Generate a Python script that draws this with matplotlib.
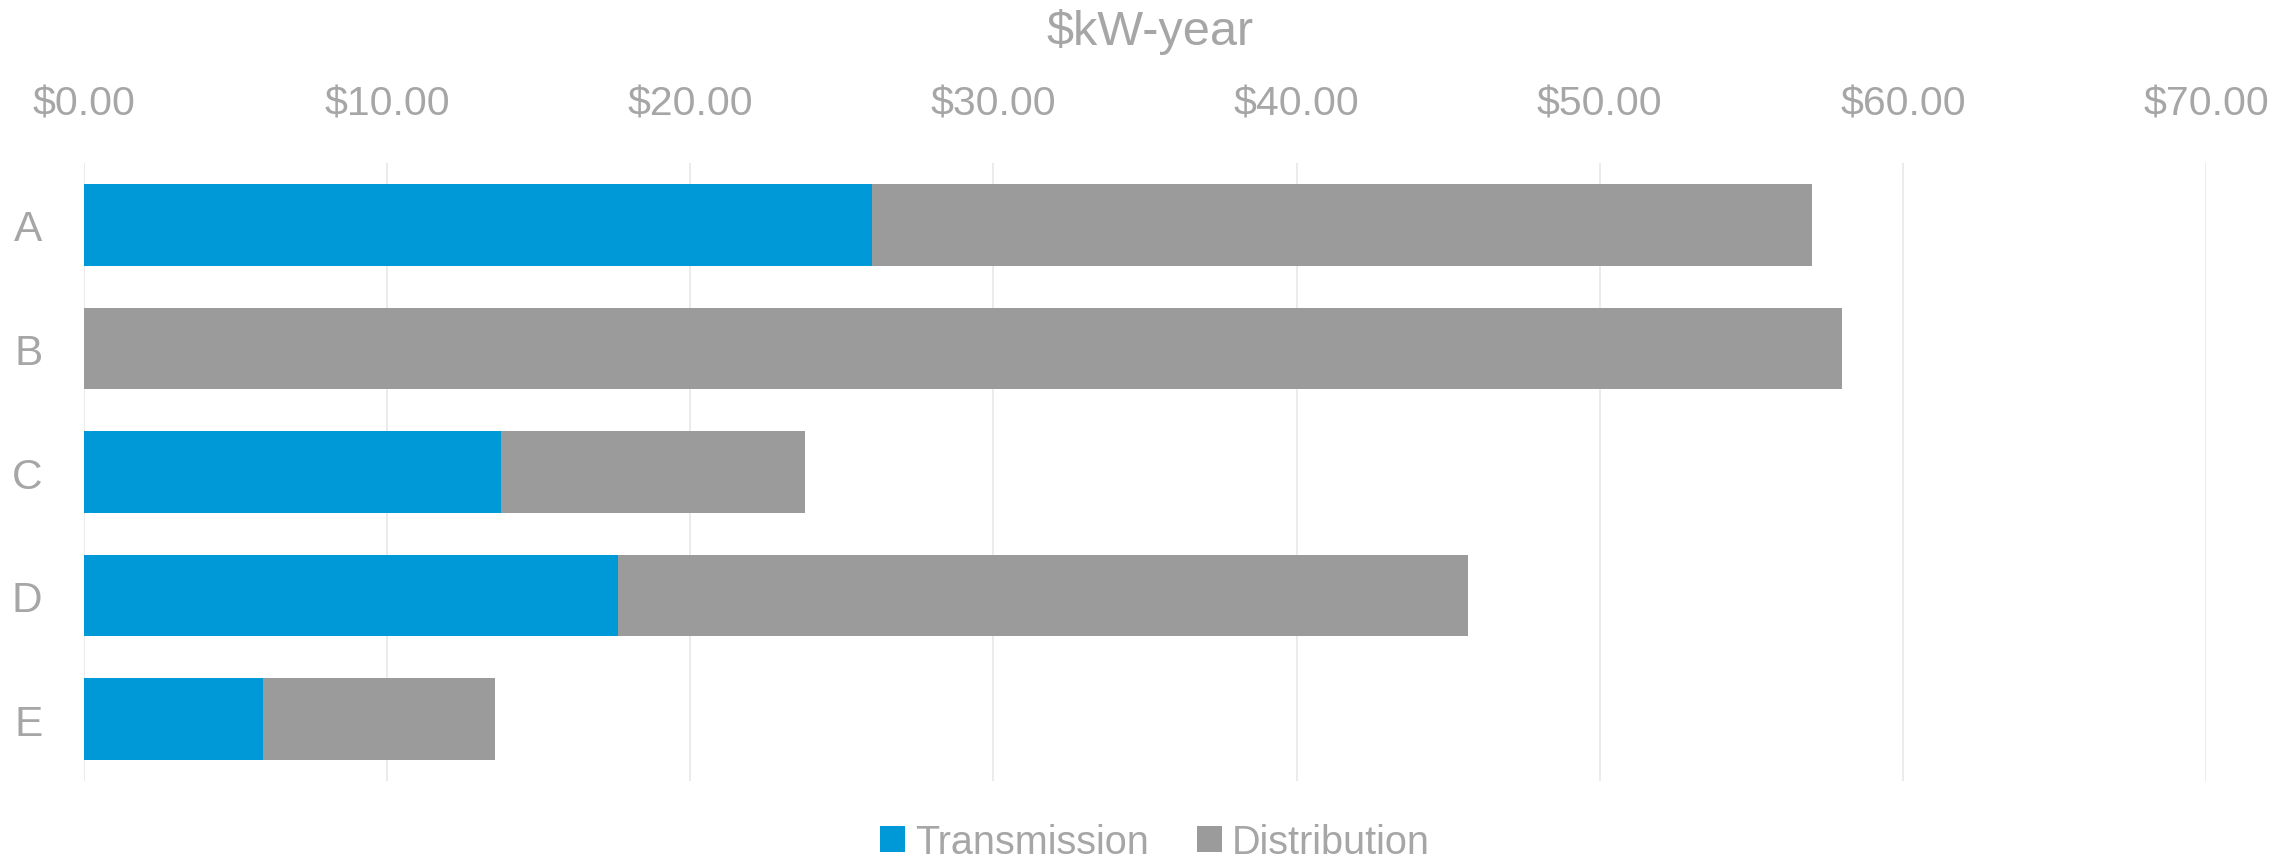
import numpy as np
import matplotlib.pyplot as plt

plt.rcParams['font.family'] = ['Liberation Sans', 'DejaVu Sans']

# data
categories = ['A', 'B', 'C', 'D', 'E']
transmission = [26.0, 0.0, 13.75, 17.63, 5.90]
distribution = [31.0, 58.0, 10.02, 28.03, 7.67]
xticks = [0, 10, 20, 30, 40, 50, 60, 70]
xtick_labels = ['$0.00', '$10.00', '$20.00', '$30.00', '$40.00', '$50.00', '$60.00', '$70.00']

BLUE = '#0099D8'
GREY = '#9B9B9B'
TEXT = '#A6A6A6'

fig = plt.figure(figsize=(22.93, 8.62), dpi=100)
ax = fig.add_axes([0.03663, 0.0928, 0.92543, 0.7169])

y = np.arange(len(categories))
ax.barh(y, transmission, height=0.66, color=BLUE, label='Transmission', zorder=3)
ax.barh(y, distribution, left=transmission, height=0.66, color=GREY, label='Distribution', zorder=3)

ax.set_xlim(0, 70)
ax.set_ylim(4.5, -0.5)
ax.set_yticks(y)
ax.set_yticklabels(categories)
ax.set_xticks(xticks)
ax.set_xticklabels(xtick_labels)
ax.xaxis.tick_top()
ax.tick_params(axis='x', length=0, pad=29, labelsize=29.5, labelcolor=TEXT)
ax.tick_params(axis='y', length=0, pad=30, labelsize=30.5, labelcolor=TEXT)
ax.grid(axis='x', color='#E6E6E6', linewidth=1.1, zorder=0)
for s in ax.spines.values():
    s.set_visible(False)

fig.text(1150 / 2293, 1 - 32 / 862, '$kW-year', ha='center', va='center',
         fontsize=35, color=TEXT)

leg = fig.legend(loc='center', bbox_to_anchor=(1155 / 2293, 19 / 862), ncol=2,
                 frameon=False, fontsize=28.5, handlelength=0.63, handleheight=0.6,
                 handletextpad=0.25, columnspacing=1.2, borderaxespad=0)
for t in leg.get_texts():
    t.set_color(TEXT)

fig.savefig('out.png', dpi=100)
